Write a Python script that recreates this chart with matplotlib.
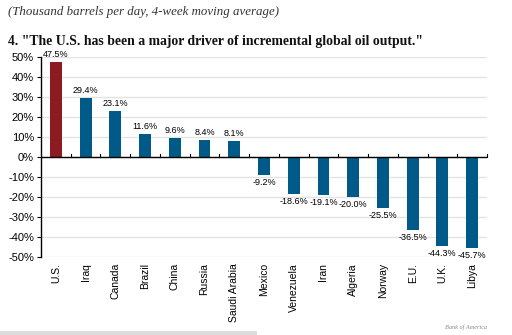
import matplotlib
matplotlib.use("Agg")
import matplotlib.pyplot as plt
from matplotlib.patches import Rectangle

countries = ["U.S.", "Iraq", "Canada", "Brazil", "China", "Russia", "Saudi Arabia",
             "Mexico", "Venezuela", "Iran", "Algeria", "Norway", "E.U.", "U.K.", "Libya"]
values = [47.5, 29.4, 23.1, 11.6, 9.6, 8.4, 8.1, -9.2, -18.6, -19.1, -20.0, -25.5, -36.5, -44.3, -45.7]
yticks = [50, 40, 30, 20, 10, 0, -10, -20, -30, -40, -50]
subtitle = "(Thousand barrels per day, 4-week moving average)"
title = '4. "The U.S. has been a major driver of incremental global oil output."'
source = "Bank of America"

red = "#8e1b22"
blue = "#005a87"

fig = plt.figure(figsize=(5.12, 3.35), dpi=100)
ax = fig.add_axes([41/512, 1-257/335, (487-41)/512, 200/335])

n = len(countries)
xs = list(range(n))
colors = [red] + [blue] * (n - 1)
ax.bar(xs, values, width=0.4, color=colors, zorder=3)

ax.set_xlim(-0.5, n - 0.5)
ax.set_ylim(-50, 50)
ax.set_yticks(yticks)
ax.set_yticklabels([f"{t}%" for t in yticks], family="Liberation Sans", fontsize=8)
ax.yaxis.grid(True, color="#e3e3e3", linewidth=1.0, zorder=0)
ax.tick_params(axis="y", length=3, width=0.8, pad=2, direction="out")

ax.set_xticks([])
for s in ["top", "right", "bottom"]:
    ax.spines[s].set_visible(False)
ax.spines["left"].set_linewidth(1.0)
ax.axhline(0, color="black", linewidth=1.0, zorder=4)
for b in range(1, n + 1):
    ax.plot([b - 0.5, b - 0.5], [0, 1.5], color="black", linewidth=0.8, zorder=4, clip_on=False)

for x, v, c in zip(xs, values, countries):
    if v >= 0:
        ax.text(x, v + 1.5, f"{v}%", ha="center", va="bottom", fontsize=6.5, family="Liberation Sans")
    else:
        ax.text(x, v - 1.5, f"{v}%", ha="center", va="top", fontsize=6.5, family="Liberation Sans")
    ax.text(x, -53, c, ha="center", va="top", rotation=90, fontsize=7.5, family="Liberation Sans")

fig.text(8/512, 1-12/335, subtitle, fontsize=9.3, style="italic", family="Liberation Serif",
         va="center", ha="left", color="#333333")
fig.text(8/512, 1-41/335, title, fontsize=9.9, weight="bold", family="Liberation Serif",
         va="center", ha="left", color="#111111")
fig.text(487/512, 1-327/335, source, fontsize=4.5, style="italic", family="Liberation Serif",
         va="center", ha="right", color="#888888")
fig.patches.append(Rectangle((0, 0), 257/512, 4/335, transform=fig.transFigure,
                             facecolor="#dcdcdc", edgecolor="none"))

fig.savefig("out.png", dpi=100)
